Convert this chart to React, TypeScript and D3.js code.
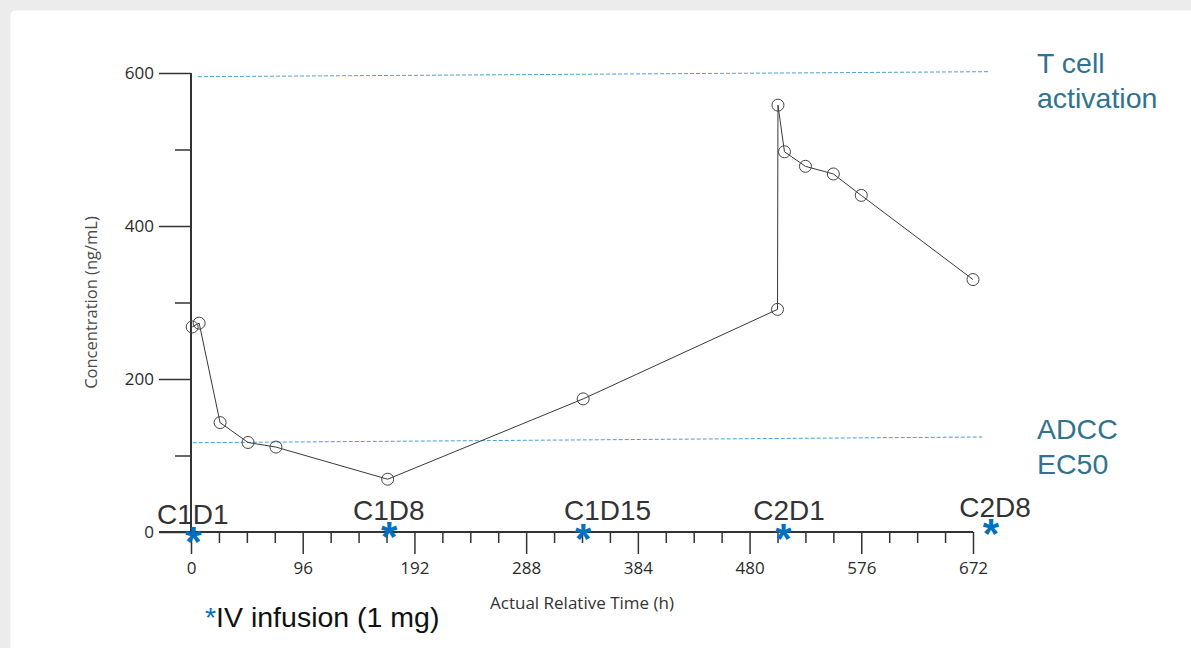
import { useEffect, useRef } from 'react';
import * as d3 from 'd3';

// PK profile, concentration vs actual relative time
const timeH = [1, 7, 25, 49, 73, 169, 337, 504, 504.4, 510, 528, 552, 576, 672];
const concNgMl = [268, 273, 143, 117, 111, 69, 174, 291, 558, 497, 478, 468, 440, 330];

const yMajorTicks = [0, 200, 400, 600];
const yMinorTicks = [100, 300, 500];
const xMajorTicks = [0, 96, 192, 288, 384, 480, 576, 672];
const xMinorTicks = d3.range(24, 672, 24).filter(t => t % 96 !== 0);

// threshold reference lines (slightly sloped in the source)
const refNames = [['T cell', 'activation'], ['ADCC', 'EC50']];
const refX0 = [6, 1.5];
const refY0 = [595.2, 116.7];
const refX1 = [685, 680];
const refY1 = [601.7, 124.2];
const refLabelX = 727;
const refLabelY = [600.4, 121.2];

// dosing events
const doseLabels = ['C1D1', 'C1D8', 'C1D15', 'C2D1', 'C2D8'];
const doseTimes = [2, 170.4, 337, 509, 687.5];
const doseStarY = [0.4, 6.9, 4.8, 4.8, 10.5];
const doseLabelTimes = [1.5, 170, 358, 514, 691];
const doseLabelY = [10.5, 15.7, 15.7, 15.7, 20];

const W = 1191;
const H = 648;

export default function App() {
  const svgRef = useRef<SVGSVGElement>(null);

  useEffect(() => {
    const svg = d3.select(svgRef.current);
    svg.selectAll('*').remove();

    // page frame
    svg.append('rect').attr('width', W).attr('height', H).attr('fill', '#ececec');
    svg.append('rect')
      .attr('x', 10.5).attr('y', 10.5)
      .attr('width', W).attr('height', H)
      .attr('rx', 5)
      .attr('fill', '#ffffff');

    const x = d3.scaleLinear().domain([0, 672]).range([191, 973]);
    const y = d3.scaleLinear().domain([0, 600]).range([532, 73]);

    const axisColor = '#333';
    const tickFont = '"Open Sans", "Noto Sans", sans-serif';
    const annFont = '"Liberation Sans", Arial, sans-serif';

    // y axis
    const yAxis = svg.append('g')
      .attr('transform', `translate(${x(0)},0)`)
      .call(d3.axisLeft(y).tickValues(yMajorTicks).tickSize(32).tickPadding(5).tickFormat(d3.format('d')));
    yAxis.select('.domain').remove();
    yAxis.selectAll('line').attr('stroke', axisColor).attr('stroke-width', 1.5);
    yAxis.selectAll('text')
      .attr('fill', '#2b2b2b')
      .style('font-family', tickFont)
      .style('font-size', '17px');

    const yMinor = svg.append('g')
      .attr('transform', `translate(${x(0)},0)`)
      .call(d3.axisLeft(y).tickValues(yMinorTicks).tickSize(16).tickFormat(() => ''));
    yMinor.select('.domain').remove();
    yMinor.selectAll('line').attr('stroke', axisColor).attr('stroke-width', 1.5);

    // x axis
    const xAxis = svg.append('g')
      .attr('transform', `translate(0,${y(0)})`)
      .call(d3.axisBottom(x).tickValues(xMajorTicks).tickSize(22).tickPadding(8).tickFormat(d3.format('d')));
    xAxis.select('.domain').remove();
    xAxis.selectAll('line').attr('stroke', axisColor).attr('stroke-width', 1.5);
    xAxis.selectAll('text')
      .attr('fill', '#2b2b2b')
      .style('font-family', tickFont)
      .style('font-size', '17px');

    const xMinor = svg.append('g')
      .attr('transform', `translate(0,${y(0)})`)
      .call(d3.axisBottom(x).tickValues(xMinorTicks).tickSize(11).tickFormat(() => ''));
    xMinor.select('.domain').remove();
    xMinor.selectAll('line').attr('stroke', axisColor).attr('stroke-width', 1.5);

    // axis lines
    svg.append('line')
      .attr('x1', x(0)).attr('x2', x(0))
      .attr('y1', y(600)).attr('y2', y(0))
      .attr('stroke', axisColor).attr('stroke-width', 2);
    svg.append('line')
      .attr('x1', x(0) - 32).attr('x2', x(672))
      .attr('y1', y(0)).attr('y2', y(0))
      .attr('stroke', axisColor).attr('stroke-width', 2);

    // axis titles
    svg.append('text')
      .attr('x', 582)
      .attr('y', 609)
      .attr('text-anchor', 'middle')
      .attr('fill', '#333')
      .style('font-family', tickFont)
      .style('font-size', '17px')
      .text('Actual Relative Time (h)');

    svg.append('text')
      .attr('transform', `translate(97,${(y(0) + y(600)) / 2}) rotate(-90)`)
      .attr('text-anchor', 'middle')
      .attr('fill', '#4a4a4a')
      .style('font-family', tickFont)
      .style('font-size', '16.5px')
      .text('Concentration (ng/mL)');

    // reference lines
    refNames.forEach((lines, i) => {
      svg.append('line')
        .attr('x1', x(refX0[i])).attr('y1', y(refY0[i]))
        .attr('x2', x(refX1[i])).attr('y2', y(refY1[i]))
        .attr('stroke', '#4f9fd0')
        .attr('stroke-width', 1)
        .attr('stroke-dasharray', '4 2');

      const t = svg.append('text')
        .attr('x', x(refLabelX))
        .attr('y', y(refLabelY[i]))
        .attr('fill', '#31738f')
        .style('font-family', annFont)
        .style('font-size', '28.5px');
      lines.forEach((s, j) => {
        t.append('tspan')
          .attr('x', x(refLabelX))
          .attr('dy', j === 0 ? 0 : 35)
          .text(s);
      });
    });

    // concentration profile
    const pts = timeH.map((t, i) => ({ t, c: concNgMl[i] }));
    const line = d3.line<{ t: number; c: number }>()
      .x(d => x(d.t))
      .y(d => y(d.c));

    svg.append('path')
      .datum(pts)
      .attr('d', line)
      .attr('fill', 'none')
      .attr('stroke', '#3a3a3a')
      .attr('stroke-width', 1);

    svg.selectAll('circle.pt')
      .data(pts)
      .join('circle')
      .attr('class', 'pt')
      .attr('cx', d => x(d.t))
      .attr('cy', d => y(d.c))
      .attr('r', 6)
      .attr('fill', 'none')
      .attr('stroke', '#444')
      .attr('stroke-width', 1);

    // dose labels and stars
    doseLabels.forEach((lab, i) => {
      svg.append('text')
        .attr('x', x(doseLabelTimes[i]))
        .attr('y', y(doseLabelY[i]))
        .attr('text-anchor', 'middle')
        .attr('fill', '#333')
        .style('font-family', annFont)
        .style('font-size', '28px')
        .text(lab);

      const fs = 42;
      svg.append('text')
        .attr('x', x(doseTimes[i]))
        .attr('y', y(doseStarY[i]) + fs * 0.58)
        .attr('text-anchor', 'middle')
        .attr('fill', '#0070c0')
        .style('font-family', annFont)
        .style('font-weight', '700')
        .style('font-size', `${fs}px`)
        .text('*');
    });

    // footnote
    const note = svg.append('text')
      .attr('x', 205)
      .attr('y', 627)
      .attr('fill', '#111')
      .style('font-family', annFont)
      .style('font-size', '28.5px');
    note.append('tspan').attr('fill', '#0070c0').text('*');
    note.append('tspan').text('IV infusion (1 mg)');
  }, []);

  return (
    <svg
      ref={svgRef}
      width={W}
      height={H}
      style={{ position: 'fixed', left: 0, top: 0, display: 'block' }}
    />
  );
}
